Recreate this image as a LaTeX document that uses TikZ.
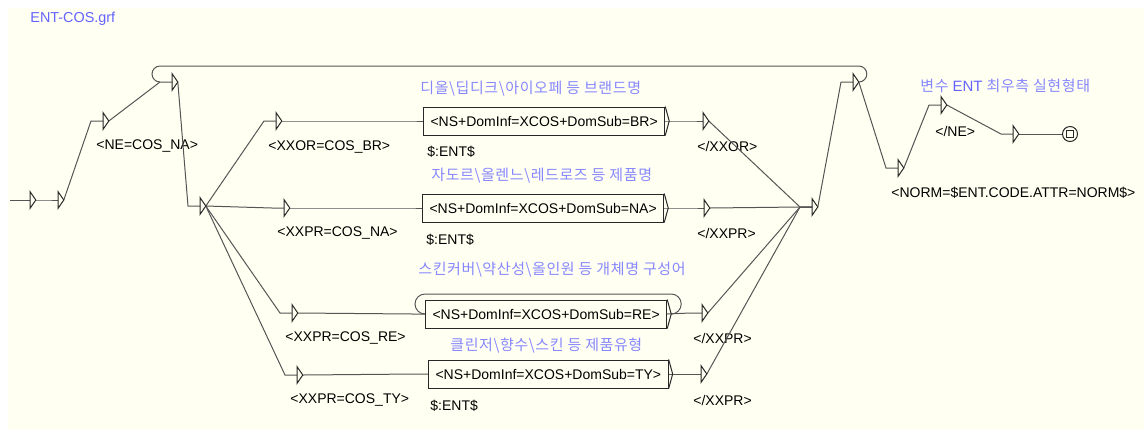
\documentclass[tikz,border=0pt]{standalone}
\usepackage{fontspec}
\setmainfont{Liberation Sans}
\newfontfamily\kor[LetterSpace=4]{Noto Sans CJK KR}
\usetikzlibrary{calc}
\definecolor{grfbg}{RGB}{255,255,242}
\definecolor{grfline}{RGB}{85,85,85}
\definecolor{grfbox}{RGB}{40,40,40}
\definecolor{grfnote}{RGB}{135,135,255}
\definecolor{grftitle}{RGB}{100,100,255}
\tikzset{
  eps/.style={inner sep=0pt, minimum width=2.5pt, minimum height=8pt, anchor=west},
  tokbox/.style={draw=grfbox, line width=0.5pt, inner xsep=3.5pt, inner ysep=0pt,
    minimum height=14pt, anchor=west, font=\fontsize{7}{8}\selectfont},
  outp/.style={inner sep=0pt, anchor=west, font=\fontsize{7}{8}\selectfont},
  note/.style={inner sep=0pt, anchor=west, text=grfnote, font=\fontsize{7.5}{8}\selectfont\kor},
  trans/.style={draw=grfline, line width=0.5pt},
  rim/.style={draw=grfbox, line width=0.5pt}
}

\begin{document}
\begin{tikzpicture}[x=0.5pt,y=-0.5pt]
      \useasboundingbox (0,0) rectangle (1144,430);
      \fill[grfbg] (8,8) rectangle (1144,430);
      \node[outp, text=grftitle, font=\fontsize{7.2}{8}\selectfont] (title) at (30,19) {ENT-COS.grf};
      % empty boxes
      \coordinate (start) at (10,200);
      \node[eps] (i0) at (30,200) {};
      \node[eps] (e1) at (58,200) {};
      \node[eps] (e2) at (103,121) {};
      \node[eps] (e3) at (172,82) {};
      \node[eps] (e4) at (200,206) {};
      \node[eps] (e5) at (276,121) {};
      \node[eps] (e6) at (284,208) {};
      \node[eps] (e7) at (292,313) {};
      \node[eps] (e8) at (297,375) {};
      \node[eps] (f5) at (703,121) {};
      \node[eps] (f6) at (704,208) {};
      \node[eps] (f7) at (702,313) {};
      \node[eps] (f8) at (701,374) {};
      \node[eps] (e9) at (812,207) {};
      \node[eps] (e10) at (853,82) {};
      \node[eps] (e11) at (898,168) {};
      \node[eps] (e12) at (941,105) {};
      \node[eps] (e13) at (1013,134) {};
      \node[rim, circle, minimum size=7.5pt, inner sep=0pt] (fin) at (1070,134) {};
      \node[rim, minimum size=3.5pt, inner sep=0pt] (finsq) at (fin) {};
      % boxes with text
      \node[tokbox] (br) at (423,121) {<NS+DomInf=XCOS+DomSub=BR>};
      \node[tokbox] (na) at (422,208) {<NS+DomInf=XCOS+DomSub=NA>};
      \node[tokbox] (re) at (425,314) {<NS+DomInf=XCOS+DomSub=RE>};
      \node[tokbox] (ty) at (428,374) {<NS+DomInf=XCOS+DomSub=TY>};
      % outputs
      \node[outp] (o2) at (96,146) {<NE=COS\_NA>};
      \node[outp] (o5) at (268,147) {<XXOR=COS\_BR>};
      \node[outp] (o6) at (277,233) {<XXPR=COS\_NA>};
      \node[outp] (o7) at (285,338) {<XXPR=COS\_RE>};
      \node[outp] (o8) at (290,400) {<XXPR=COS\_TY>};
      \node[outp] (p5) at (697,146) {</XXOR>};
      \node[outp] (p6) at (697,233) {</XXPR>};
      \node[outp] (p7) at (693,338) {</XXPR>};
      \node[outp] (p8) at (693,400) {</XXPR>};
      \node[outp] (o11) at (891,193) {<NORM=\$ENT.CODE.ATTR=NORM\$>};
      \node[outp] (o12) at (935,131) {</NE>};
      \node[outp] (vbr) at (427,152) {\$:ENT\$};
      \node[outp] (vna) at (426,240) {\$:ENT\$};
      \node[outp] (vty) at (430,406) {\$:ENT\$};
      % comments
      \node[note] (cbr) at (420,89) {디올\textbackslash 딥디크\textbackslash 아이오페 등 브랜드명};
      \node[note] (cna) at (431,176) {자도르\textbackslash 올렌느\textbackslash 레드로즈 등 제품명};
      \node[note] (cre) at (418,270) {스킨커버\textbackslash 약산성\textbackslash 올인원 등 개체명 구성어};
      \node[note] (cty) at (450,346) {클린저\textbackslash 향수\textbackslash 스킨 등 제품유형};
      \node[note] (cvar) at (920,86) {변수 {\rmfamily\color{grftitle}ENT} 최우측 실현형태};
      % transitions
      \draw[trans] (start) -- (i0.west);
      \foreach \a/\b in {i0/e1, e1/e2, e2/e3, e3/e4, e4/e5, e4/e6, e4/e7, e4/e8,
                         e5/br, e6/na, e7/re, e8/ty, br/f5, na/f6, re/f7, ty/f8,
                         f5/e9, f6/e9, f7/e9, f8/e9, e9/e10, e10/e11, e11/e12, e12/e13}
        \draw[trans] (\a.east) -- ([xshift=-6pt]\b.west) -- (\b.west);
      \draw[trans] (e13.east) -- (fin.west);
      % loops
      \draw[trans] (e10.east) arc[start angle=90, end angle=-90, radius=8]
        -- ([shift={(-12,-16)}]e3.west) arc[start angle=-90, end angle=-270, radius=8];
      \draw[trans] ([xshift=2pt]re.east) arc[start angle=90, end angle=-90, radius=10]
        -- ([shift={(0,-20)}]re.west) arc[start angle=-90, end angle=-270, radius=10];
      % box shapes
      \foreach \n in {i0,e1,e2,e3,e4,e5,e6,e7,e8,f5,f6,f7,f8,e9,e10,e11,e12,e13}
        \draw[rim] (\n.north west) -- (\n.east) -- (\n.south west) -- cycle;
      \foreach \n in {br,na,re,ty}
        \draw[rim] (\n.north east) -- ([xshift=2pt]\n.east) -- (\n.south east);
\end{tikzpicture}
\end{document}
